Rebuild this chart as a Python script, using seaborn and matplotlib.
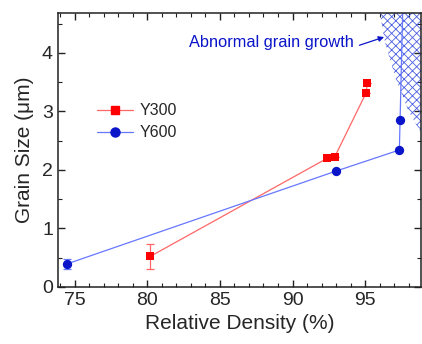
import matplotlib
matplotlib.use("Agg")
import matplotlib.pyplot as plt
import seaborn as sns
import numpy as np
import pandas as pd
from matplotlib.ticker import MultipleLocator
from matplotlib.lines import Line2D

sns.set_style("ticks")
plt.rcParams['font.family'] = ['Liberation Sans', 'DejaVu Sans']
plt.rcParams['hatch.linewidth'] = 0.6

# data
y300_density = [80.2, 92.4, 92.9, 95.05, 95.15]
y300_size = [0.52, 2.20, 2.22, 3.31, 3.48]
y300_err = [0.21, 0, 0, 0, 0]
y600_density = [74.45, 93.0, 97.35, 97.4, 97.6]
y600_size = [0.39, 1.98, 2.34, 2.86, 4.9]
y600_err = [0.09, 0, 0, 0, 0]
region_y = [2.63, 3.02, 3.59, 4.17, 4.75]
region_left = [98.85, 97.95, 97.06, 96.37, 95.95]

RED = "#ff0000"
RED_L = "#ff6666"
BLUE = "#0a14c8"
BLUE_L = "#6677ff"

fig = plt.figure(figsize=(4.22, 3.44), dpi=100)
ax = fig.add_axes([0.137, 0.166, 0.861, 0.796])

# hatched region
ax.fill_betweenx(region_y, region_left, [101] * len(region_y), facecolor="none",
                 edgecolor="#4a5ee0", hatch="xxxx", linewidth=0)

df300 = pd.DataFrame({"x": y300_density, "y": y300_size})
df600 = pd.DataFrame({"x": y600_density, "y": y600_size})

sns.lineplot(data=df300, x="x", y="y", sort=False, estimator=None, ax=ax,
             color=RED_L, linewidth=0.9, label=None)
sns.lineplot(data=df600, x="x", y="y", sort=False, estimator=None, ax=ax,
             color=BLUE_L, linewidth=0.9, label=None)
ax.errorbar(y300_density, y300_size, yerr=y300_err, fmt="none", ecolor=RED_L,
            elinewidth=0.9, capsize=3, capthick=0.9)
ax.errorbar(y600_density, y600_size, yerr=y600_err, fmt="none", ecolor=BLUE_L,
            elinewidth=0.9, capsize=3, capthick=0.9)
sns.scatterplot(data=df300, x="x", y="y", marker="s", color=RED, s=38,
                edgecolor=RED, linewidth=0, ax=ax, zorder=5)
sns.scatterplot(data=df600, x="x", y="y", marker="o", color=BLUE, s=45,
                edgecolor=BLUE, linewidth=0, ax=ax, zorder=5)

h1 = Line2D([], [], color=RED_L, lw=0.9, marker="s", markerfacecolor=RED,
            markeredgecolor=RED, markersize=6)
h2 = Line2D([], [], color=BLUE_L, lw=0.9, marker="o", markerfacecolor=BLUE,
            markeredgecolor=BLUE, markersize=6.5)
ax.legend([h1, h2], ["Y300", "Y600"], loc="upper left",
          bbox_to_anchor=(0.069, 0.723), frameon=False, fontsize=11.5,
          handlelength=2.25, labelspacing=0.45, handletextpad=0.4)

ax.annotate("", xy=(96.3, 4.27), xytext=(94.6, 4.13),
            arrowprops=dict(arrowstyle="-|>", color=BLUE, lw=0.9,
                            shrinkA=0, shrinkB=0, mutation_scale=8))
ax.text(94.2, 4.17, "Abnormal grain growth", color=BLUE, fontsize=11.8,
        ha="right", va="center")

ax.set_xlim(73.85, 98.85)
ax.set_ylim(0, 4.68)
ax.xaxis.set_major_locator(MultipleLocator(5))
ax.xaxis.set_minor_locator(MultipleLocator(1))
ax.yaxis.set_major_locator(MultipleLocator(1))
ax.yaxis.set_minor_locator(MultipleLocator(0.5))
ax.tick_params(which="both", direction="in", top=True, right=True,
               color="#222222", labelsize=14)
ax.tick_params(which="major", length=5, width=1)
ax.tick_params(which="minor", length=3, width=0.8)
for s in ax.spines.values():
    s.set_linewidth(1.1)
    s.set_color("#222222")
ax.set_xlabel("Relative Density (%)", fontsize=15, labelpad=4)
ax.set_ylabel("Grain Size (μm)", fontsize=15, labelpad=6)

fig.savefig("out.png", dpi=100)
